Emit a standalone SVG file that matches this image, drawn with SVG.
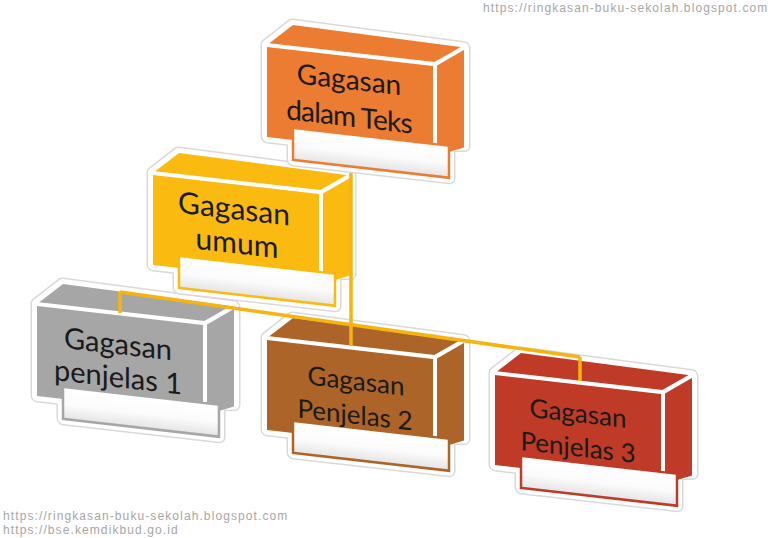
<svg xmlns="http://www.w3.org/2000/svg" width="768" height="538" viewBox="0 0 768 538">
<style>
.halo{fill:#ffffff;stroke:#d9d9d9;stroke-width:13;stroke-linejoin:round}
.halo2{fill:#ffffff;stroke:#ffffff;stroke-width:10;stroke-linejoin:round}
.face{fill:currentColor}
.edge{fill:none;stroke:#ffffff;stroke-width:4;stroke-linejoin:miter}
.lbl{fill:url(#lblg);stroke:currentColor;stroke-width:2.5}
.t{font-family:Lato,"Open Sans",sans-serif;fill:#1a1a1a;text-anchor:middle}
.wm{font-family:"Liberation Sans",Arial,sans-serif;font-size:12px;fill:#a6a6a6;letter-spacing:1.1px}
.conn{fill:none;stroke:#F5B40E;stroke-width:3.5;stroke-linecap:butt}
</style>
<defs>
<linearGradient id="lblg" x1="0" y1="0" x2="0" y2="1">
<stop offset="0" stop-color="#ffffff"/>
<stop offset="0.55" stop-color="#fbfbfb"/>
<stop offset="1" stop-color="#e4e4e4"/>
</linearGradient>
<g id="box">
<polygon class="halo" points="0,0 26,-23 197,-20 197,78 182,80 182,112 26,112 26,92 0,92"/>
<polygon class="halo2" points="0,0 26,-23 197,-20 197,78 182,80 182,112 26,112 26,92 0,92"/>
<polygon class="face" points="0,0 26,-23 197,-20 168,0"/>
<rect class="face" x="0" y="0" width="168" height="92"/>
<polygon class="face" points="168,0 197,-20 197,80 168,92"/>
<polyline class="edge" points="0,0 168,0 168,92"/>
<line class="edge" x1="168" y1="0" x2="197" y2="-20"/>
<rect class="lbl" x="26" y="80" width="156" height="32"/>
</g>
</defs>

<g id="node-penjelas1" transform="translate(37,304) skewY(6.5)" style="color:#A6A6A6">
<use href="#box"/>
<text class="t" x="81" y="41" font-size="29">Gagasan</text>
<text class="t" x="81" y="74" font-size="29">penjelas 1</text>
</g>

<g id="node-penjelas2" transform="translate(267,338) skewY(6.5)" style="color:#AD6428">
<use href="#box"/>
<text class="t" x="89" y="42" font-size="26">Gagasan</text>
<text class="t" x="88" y="76" font-size="26">Penjelas 2</text>
</g>

<g id="node-penjelas3" transform="translate(495,373) skewY(6.5)" style="color:#BF3A27">
<use href="#box"/>
<text class="t" x="83" y="40" font-size="26">Gagasan</text>
<text class="t" x="83" y="74" font-size="26">Penjelas 3</text>
</g>

<g id="node-umum" transform="translate(153,173) skewY(6.5)" style="color:#FABA10">
<use href="#box"/>
<text class="t" x="81" y="37" font-size="30">Gagasan</text>
<text class="t" x="84" y="71" font-size="30">umum</text>
</g>

<g id="connectors">
<line class="conn" x1="351" y1="164" x2="351" y2="346"/>
<line class="conn" x1="120" y1="292" x2="580" y2="357"/>
<line class="conn" x1="120" y1="292" x2="120" y2="313"/>
<line class="conn" x1="580" y1="357" x2="580" y2="381"/>
</g>

<g id="node-teks" transform="translate(267,45) skewY(6.5)" style="color:#EC7C32">
<use href="#box"/>
<text class="t" x="82" y="35" font-size="28">Gagasan</text>
<text class="t" x="82" y="72" font-size="28" letter-spacing="-0.8">dalam Teks</text>
</g>

<text class="wm" x="483" y="12">https://ringkasan-buku-sekolah.blogspot.com</text>
<text class="wm" x="3" y="520">https://ringkasan-buku-sekolah.blogspot.com</text>
<text class="wm" x="3" y="534">https://bse.kemdikbud.go.id</text>
</svg>
